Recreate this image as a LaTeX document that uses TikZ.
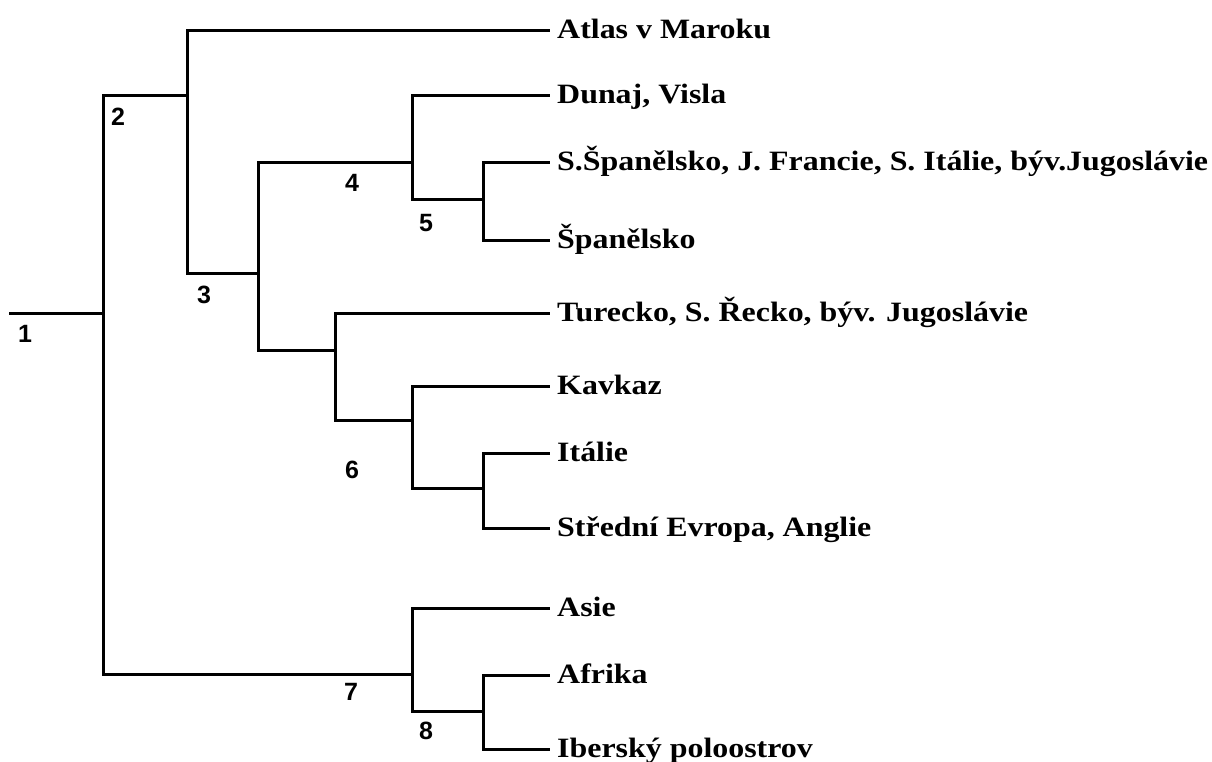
\documentclass[tikz,border=0pt]{standalone}
\usepackage{fontspec}
\newfontfamily\leaffont[FakeStretch=1.14]{Liberation Serif Bold}
\newfontfamily\numfont{Liberation Sans Bold}
\begin{document}
\begin{tikzpicture}[x=1pt,y=-1pt,
  branch/.style={line width=3pt,line cap=rect},
  leaf/.style={anchor=west,inner xsep=9pt,inner ysep=0pt,text height=16pt,text depth=0pt,
    font=\leaffont\fontsize{28}{30}\selectfont},
  num/.style={inner sep=0pt,font=\numfont\fontsize{25}{27}\selectfont}]
\useasboundingbox (0,0) rectangle (1212,762);

% branching points
\coordinate (r0) at (10,313);
\coordinate (n1) at (103,313);
\coordinate (n2) at (187,96);
\coordinate (n3) at (258,273);
\coordinate (n4) at (412,163);
\coordinate (n5) at (483,200);
\coordinate (n6) at (335,350);
\coordinate (n6b) at (412,420);
\coordinate (n6c) at (483,488);
\coordinate (n7) at (412,674);
\coordinate (n8) at (483,711);

% terminal taxa
\node[leaf] (atlas)   at (548,31)  {Atlas v Maroku};
\node[leaf] (dunaj)   at (548,96)  {Dunaj, Visla};
\node[leaf] (sspan)   at (548,163) {S.Španělsko, J. Francie, S. Itálie, býv.Jugoslávie};
\node[leaf] (span)    at (548,240) {Španělsko};
\node[leaf] (turecko) at (548,313) {Turecko, S. Řecko, býv. Jugoslávie};
\node[leaf] (kavkaz)  at (548,386) {Kavkaz};
\node[leaf] (italie)  at (548,453) {Itálie};
\node[leaf] (stred)   at (548,528) {Střední Evropa, Anglie};
\node[leaf] (asie)    at (548,608) {Asie};
\node[leaf] (afrika)  at (548,675) {Afrika};
\node[leaf] (iber)    at (548,749) {Iberský poloostrov};

% branches
\draw[branch] (r0) -- (n1);
\draw[branch] (n1) |- (n2);
\draw[branch] (n1) |- (n7);
\draw[branch] (n2) |- (atlas.west);
\draw[branch] (n2) |- (n3);
\draw[branch] (n3) |- (n4);
\draw[branch] (n3) |- (n6);
\draw[branch] (n4) |- (dunaj.west);
\draw[branch] (n4) |- (n5);
\draw[branch] (n5) |- (sspan.west);
\draw[branch] (n5) |- (span.west);
\draw[branch] (n6) |- (turecko.west);
\draw[branch] (n6) |- (n6b);
\draw[branch] (n6b) |- (kavkaz.west);
\draw[branch] (n6b) |- (n6c);
\draw[branch] (n6c) |- (italie.west);
\draw[branch] (n6c) |- (stred.west);
\draw[branch] (n7) |- (asie.west);
\draw[branch] (n7) |- (n8);
\draw[branch] (n8) |- (afrika.west);
\draw[branch] (n8) |- (iber.west);

% node numbers
\node[num] (l1) at (25,334) {1};
\node[num] (l2) at (118,117) {2};
\node[num] (l3) at (204,295) {3};
\node[num] (l4) at (352,183) {4};
\node[num] (l5) at (426,223) {5};
\node[num] (l6) at (352,470) {6};
\node[num] (l7) at (351,692) {7};
\node[num] (l8) at (426,731) {8};
\end{tikzpicture}
\end{document}
